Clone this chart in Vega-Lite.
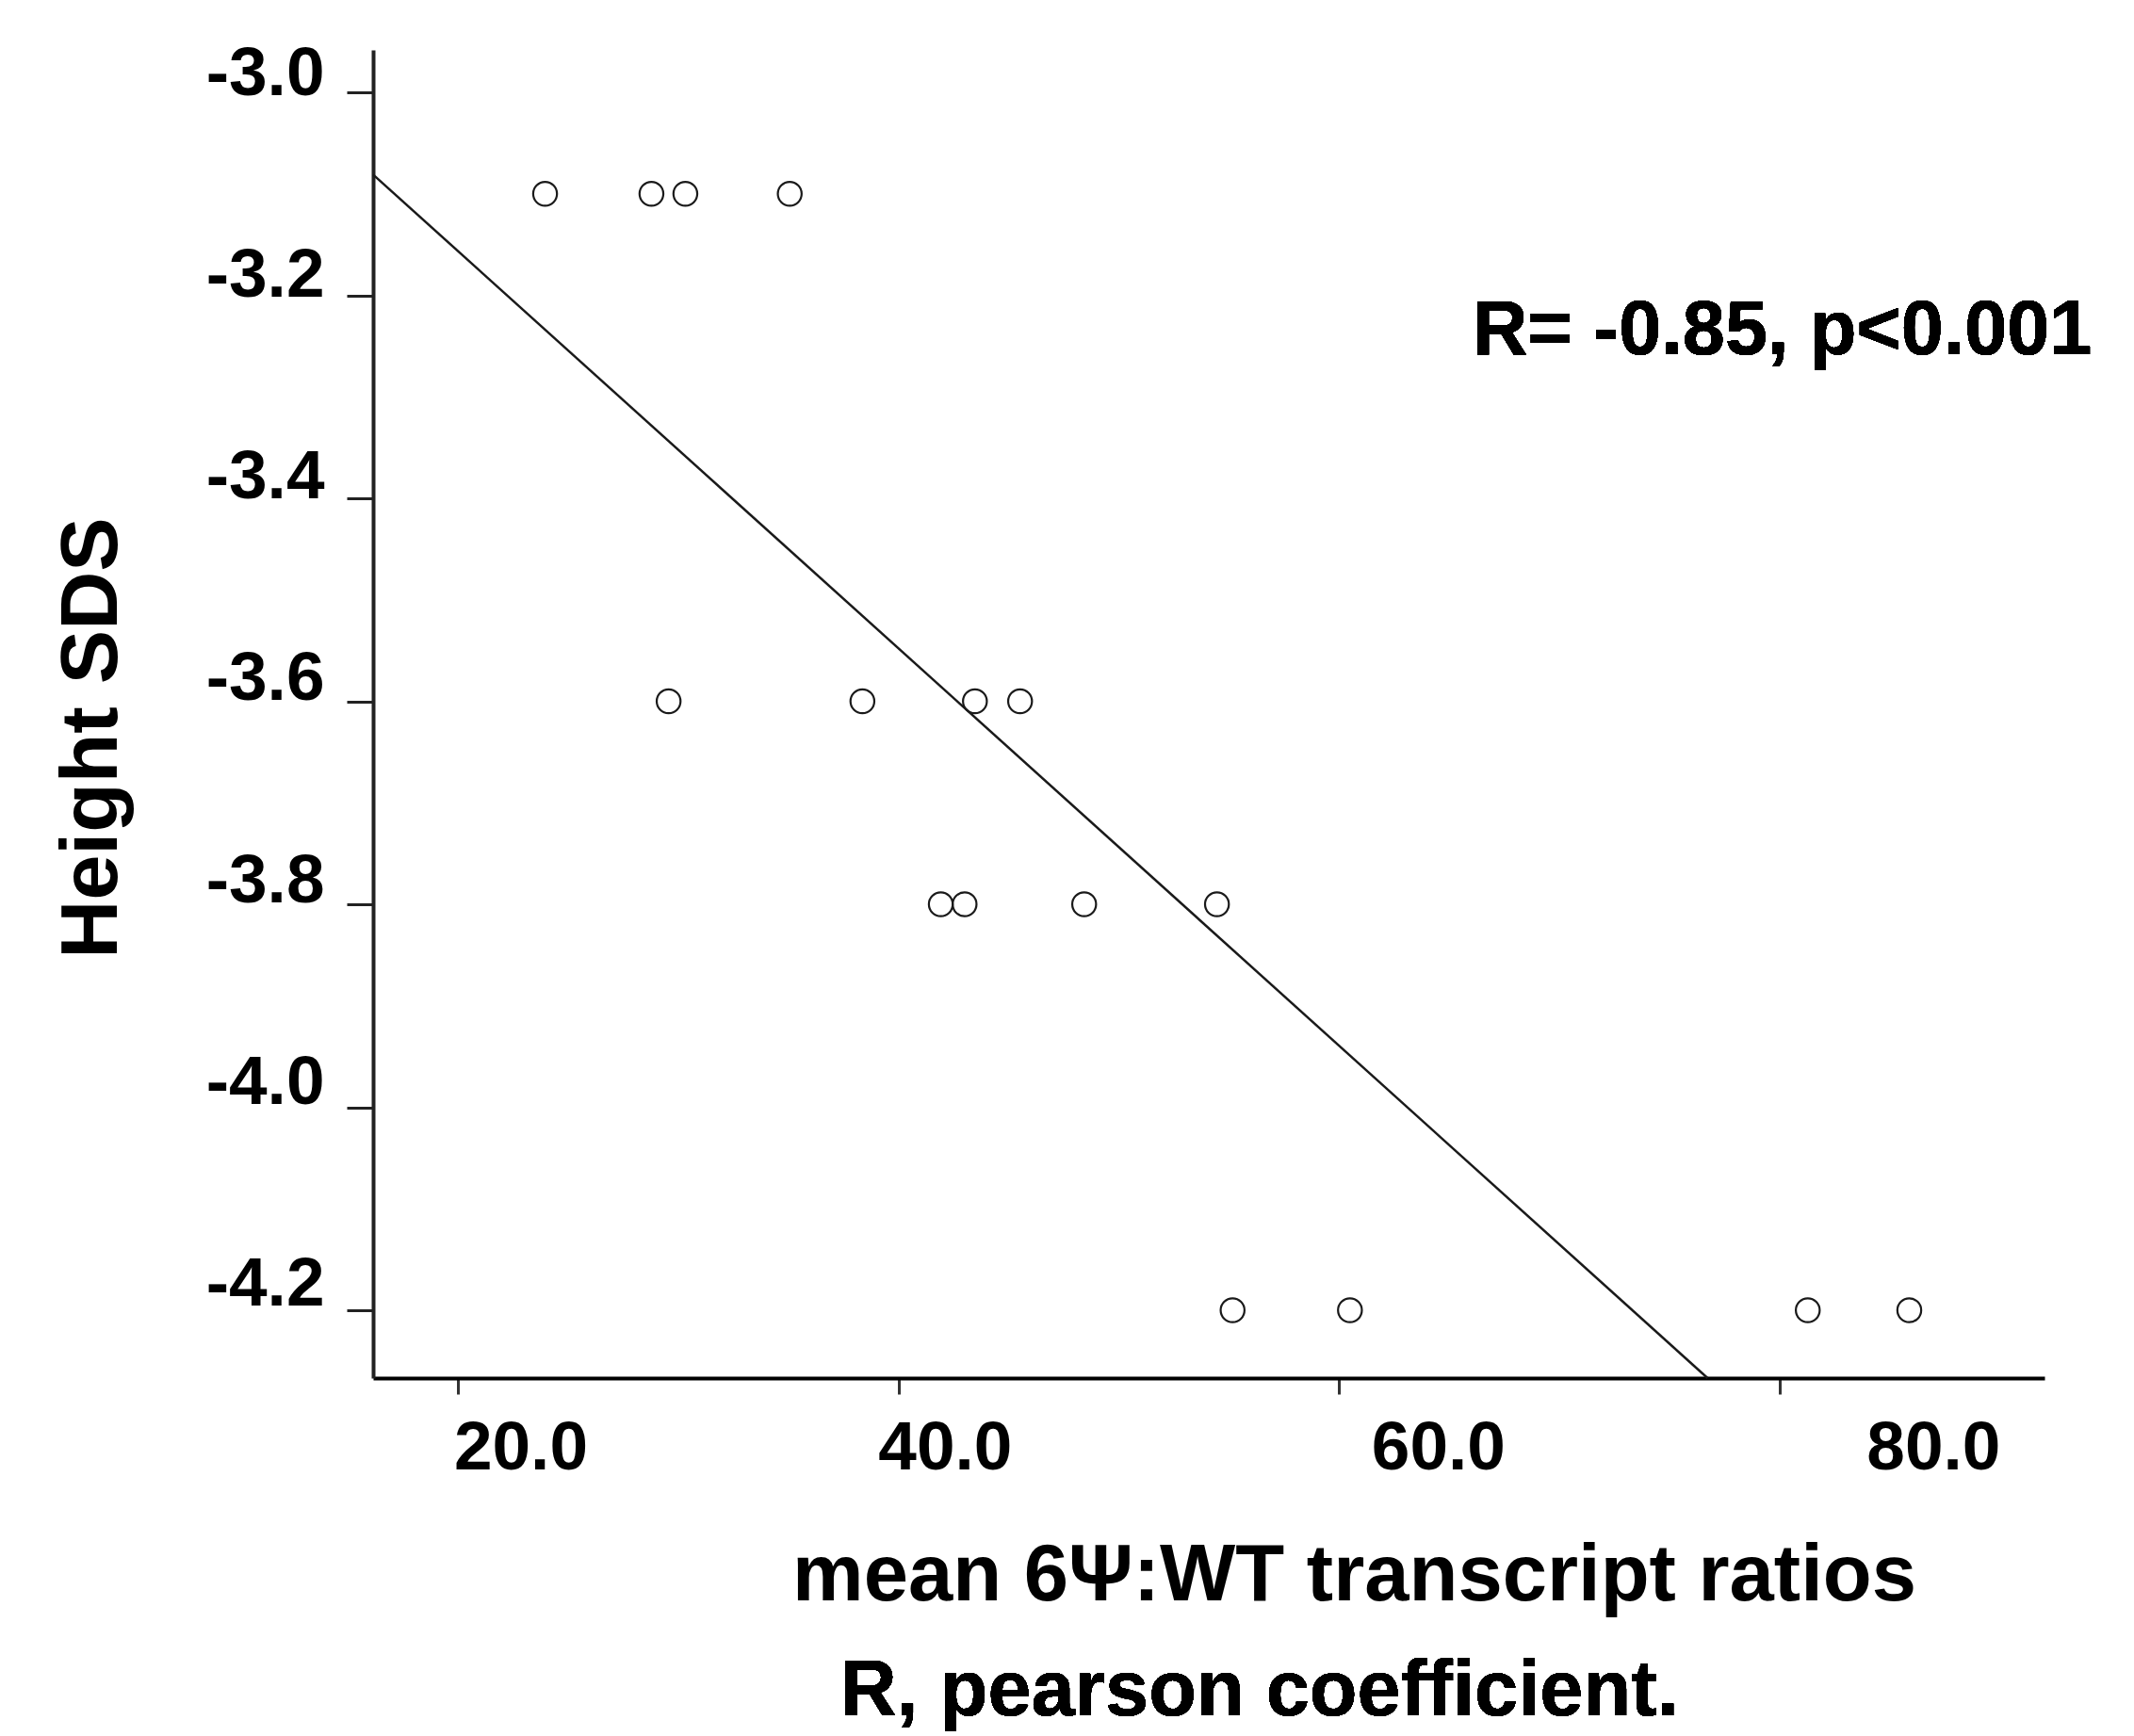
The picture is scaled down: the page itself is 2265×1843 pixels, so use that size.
{
  "$schema": "https://vega.github.io/schema/vega-lite/v6.json",
  "width": 1774,
  "height": 1410,
  "autosize": {"type": "none"},
  "padding": {"left": 396, "top": 53, "right": 95, "bottom": 380},
  "background": "white",
  "config": {"view": {"stroke": null}, "font": "Liberation Sans"},
  "data": {
    "values": [
      {"ratio": 23.94, "sds": -3.1},
      {"ratio": 28.77, "sds": -3.1},
      {"ratio": 30.31, "sds": -3.1},
      {"ratio": 35.05, "sds": -3.1},
      {"ratio": 29.55, "sds": -3.6},
      {"ratio": 38.35, "sds": -3.6},
      {"ratio": 43.46, "sds": -3.6},
      {"ratio": 45.51, "sds": -3.6},
      {"ratio": 41.91, "sds": -3.8},
      {"ratio": 42.99, "sds": -3.8},
      {"ratio": 48.42, "sds": -3.8},
      {"ratio": 54.45, "sds": -3.8},
      {"ratio": 55.16, "sds": -4.2},
      {"ratio": 60.49, "sds": -4.2},
      {"ratio": 81.28, "sds": -4.2},
      {"ratio": 85.89, "sds": -4.2}
    ]
  },
  "layer": [
    {
      "mark": {
        "type": "point",
        "shape": "circle",
        "filled": false,
        "size": 640,
        "stroke": "#1a1a1a",
        "strokeWidth": 2.2,
        "opacity": 1
      },
      "encoding": {
        "x": {
          "field": "ratio",
          "type": "quantitative",
          "scale": {"domain": [16.13, 92.03], "zero": false, "nice": false},
          "axis": {
            "values": [20, 40, 60, 80],
            "format": ".1f",
            "grid": false,
            "labelFontSize": 73,
            "labelFontWeight": "bold",
            "labelColor": "black",
            "labelBaseline": "top",
            "labelPadding": 21.6,
            "labelFlush": false,
            "labelOverlap": false,
            "labelBound": false,
            "labelOffset": {
              "condition": [
                {"test": "datum.value == 20", "value": 66},
                {"test": "datum.value == 40", "value": 49},
                {"test": "datum.value == 60", "value": 105}
              ],
              "value": 163
            },
            "tickSize": 17,
            "tickWidth": 3,
            "tickColor": "#333333",
            "domainWidth": 4,
            "domainColor": "black",
            "title": "mean 6Ψ:WT transcript ratios",
            "titleFontSize": 85,
            "titleFontWeight": "bold",
            "titleColor": "black",
            "titleX": 1041,
            "titleY": 235,
            "titleAlign": "center",
            "titleBaseline": "alphabetic"
          }
        },
        "y": {
          "field": "sds",
          "type": "quantitative",
          "scale": {"domain": [-4.2668, -2.9582], "zero": false, "nice": false},
          "axis": {
            "values": [-3.0, -3.2, -3.4, -3.6, -3.8, -4.0, -4.2],
            "labelExpr": "replace(format(datum.value, '.1f'), '\u2212', '-')",
            "grid": false,
            "labelFontSize": 73,
            "labelFontWeight": "bold",
            "labelColor": "black",
            "labelBaseline": "alphabetic",
            "labelAlign": "right",
            "labelPadding": 24,
            "labelFlush": false,
            "labelOverlap": false,
            "labelBound": false,
            "labelOffset": {
              "condition": [
                {"test": "datum.value > -3.1", "value": 2},
                {"test": "datum.value > -3.3", "value": 1},
                {"test": "datum.value > -3.5", "value": -1},
                {"test": "datum.value > -3.7", "value": -2},
                {"test": "datum.value > -3.9", "value": -3},
                {"test": "datum.value > -4.1", "value": -4}
              ],
              "value": -6
            },
            "tickSize": 28,
            "tickWidth": 3,
            "tickColor": "#222222",
            "domainWidth": 4,
            "domainColor": "#222222",
            "title": "Height SDS",
            "titleFontSize": 86,
            "titleFontWeight": "bold",
            "titleColor": "black",
            "titleAngle": 270,
            "titleX": -273,
            "titleY": 730,
            "titleAlign": "center",
            "titleBaseline": "alphabetic"
          }
        }
      }
    },
    {
      "data": {
        "values": [
          {"ratio": 16.13, "sds": -3.081},
          {"ratio": 76.73, "sds": -4.2668}
        ]
      },
      "mark": {"type": "line", "color": "#1a1a1a", "strokeWidth": 2.5},
      "encoding": {
        "x": {"field": "ratio", "type": "quantitative"},
        "y": {"field": "sds", "type": "quantitative"}
      }
    },
    {
      "mark": {
        "type": "text",
        "text": "R= -0.85, p<0.001",
        "align": "left",
        "baseline": "alphabetic",
        "fontSize": 81,
        "fontWeight": "bold",
        "color": "black"
      },
      "encoding": {
        "x": {"datum": 66.06, "type": "quantitative"},
        "y": {"datum": -3.2583, "type": "quantitative"}
      }
    },
    {
      "mark": {
        "type": "text",
        "text": "R, pearson coefficient.",
        "align": "center",
        "baseline": "alphabetic",
        "fontSize": 83,
        "fontWeight": "bold",
        "color": "black"
      },
      "encoding": {
        "x": {"datum": 56.38, "type": "quantitative"},
        "y": {"datum": -4.5991, "type": "quantitative"}
      }
    }
  ]
}
